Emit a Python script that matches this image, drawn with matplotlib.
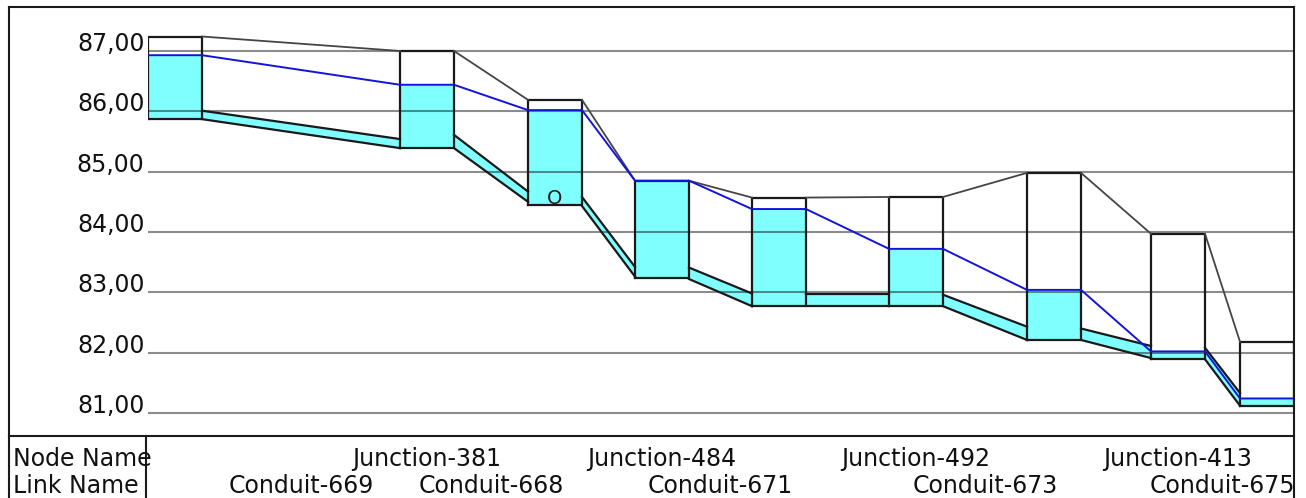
import matplotlib
matplotlib.use("Agg")
import matplotlib.pyplot as plt
from matplotlib.lines import Line2D

# node data (station = distance along profile of the node centre)
node_station = [27, 279, 407, 514, 631, 768, 906, 1030, 1119]
node_ground = [87.24, 87.00, 86.19, 84.85, 84.57, 84.58, 84.98, 83.97, 82.18]
node_water = [86.93, 86.44, 86.02, 84.85, 84.38, 83.72, 83.04, 82.02, 81.24]
node_invert = [85.87, 85.39, 84.44, 83.23, 82.77, 82.77, 82.21, 81.90, 81.12]
node_labels = ["", "Junction-381", "", "Junction-484", "", "Junction-492", "", "Junction-413", ""]

# link data (upstream / downstream invert and crown elevations)
link_up_invert = [85.87, 85.39, 84.43, 83.22, 82.77, 82.77, 82.21, 81.89]
link_up_crown = [86.01, 85.61, 84.58, 83.41, 82.97, 82.96, 82.40, 82.08]
link_dn_invert = [85.39, 84.50, 83.26, 82.77, 82.77, 82.21, 81.91, 81.12]
link_dn_crown = [85.54, 84.67, 83.42, 82.98, 82.97, 82.43, 82.11, 81.33]
link_labels = ["Conduit-669", "Conduit-668", "", "Conduit-671", "", "Conduit-673", "", "Conduit-675"]

y_ticks = [81, 82, 83, 84, 85, 86, 87]
y_tick_labels = ["81,00", "82,00", "83,00", "84,00", "85,00", "86,00", "87,00"]

W, H = 1306, 498
BOX_W = 54
CYAN = "#80ffff"
EDGE = "#1a1a1a"
FS = 17

fig = plt.figure(figsize=(W / 100, H / 100), dpi=100)
ax = fig.add_axes([148 / W, (H - 436) / H, (1294 - 148) / W, (436 - 7) / H])
tab = fig.add_axes([148 / W, 0, (1294 - 148) / W, (H - 436) / H])

n = len(node_station)
lefts = [s - BOX_W / 2 for s in node_station]
rights = [s + BOX_W / 2 for s in node_station]

# nodes
for i in range(n):
    ax.fill_between([lefts[i], rights[i]], node_invert[i], node_water[i],
                    color=CYAN, lw=0, zorder=1)
    ax.plot([lefts[i], rights[i], rights[i], lefts[i], lefts[i]],
            [node_invert[i], node_invert[i], node_ground[i], node_ground[i], node_invert[i]],
            color=EDGE, lw=1.6, zorder=3)

# links
for i in range(n - 1):
    xs = [rights[i], lefts[i + 1]]
    ax.fill_between(xs, [link_up_invert[i], link_dn_invert[i]],
                    [link_up_crown[i], link_dn_crown[i]], color=CYAN, lw=0, zorder=1)
    ax.plot(xs, [link_up_invert[i], link_dn_invert[i]], color=EDGE, lw=1.6, zorder=3)
    ax.plot(xs, [link_up_crown[i], link_dn_crown[i]], color=EDGE, lw=1.6, zorder=3)
    # ground line
    ax.plot(xs, [node_ground[i], node_ground[i + 1]], color="#454545", lw=1.3, zorder=3)

# water surface
wx, wy = [], []
for i in range(n):
    wx += [lefts[i], rights[i]]
    wy += [node_water[i], node_water[i]]
ax.plot(wx, wy, color="#1414d8", lw=1.4, zorder=4)

ax.text(node_station[2], node_invert[2] + 0.03, "O", ha="center", va="baseline",
        fontsize=14, color=EDGE, zorder=5)

for v in y_ticks:
    ax.axhline(v, color="black", alpha=0.45, lw=1.5, zorder=2.5)

ax.set_xlim(0, 1146)
ax.set_ylim(80.618, 87.729)
ax.set_xticks([])
ax.set_yticks(y_ticks, y_tick_labels)
ax.tick_params(axis="y", length=0, pad=2.5, labelsize=FS, labelcolor="#111111")
for lbl in ax.get_yticklabels():
    lbl.set_va("baseline")
for sp in ax.spines.values():
    sp.set_visible(False)

# table rows
tab.set_xlim(0, 1146)
tab.set_ylim(0, 1)
tab.axis("off")
for i in range(n):
    if node_labels[i]:
        tab.text(node_station[i], 0.52, node_labels[i], ha="center", va="baseline",
                 fontsize=FS, color="#111111", clip_on=True)
for i in range(n - 1):
    if link_labels[i]:
        mid = (rights[i] + lefts[i + 1]) / 2
        tab.text(mid, 0.08, link_labels[i], ha="center", va="baseline",
                 fontsize=FS, color="#111111", clip_on=True)

fig.text(13 / W, 1 - 466 / H, "Node Name", ha="left", va="baseline", fontsize=FS, color="#111111")
fig.text(13 / W, 1 - 493 / H, "Link Name", ha="left", va="baseline", fontsize=FS, color="#111111")


def frame_line(x0, y0, x1, y1):
    fig.add_artist(Line2D([x0 / W, x1 / W], [1 - y0 / H, 1 - y1 / H],
                          color=EDGE, lw=1.5))


frame_line(9, 7, 1294, 7)
frame_line(9, 7, 9, H)
frame_line(1294, 7, 1294, H)
frame_line(9, 436, 1294, 436)
frame_line(146, 436, 146, H)

fig.savefig("out.png", dpi=100)
